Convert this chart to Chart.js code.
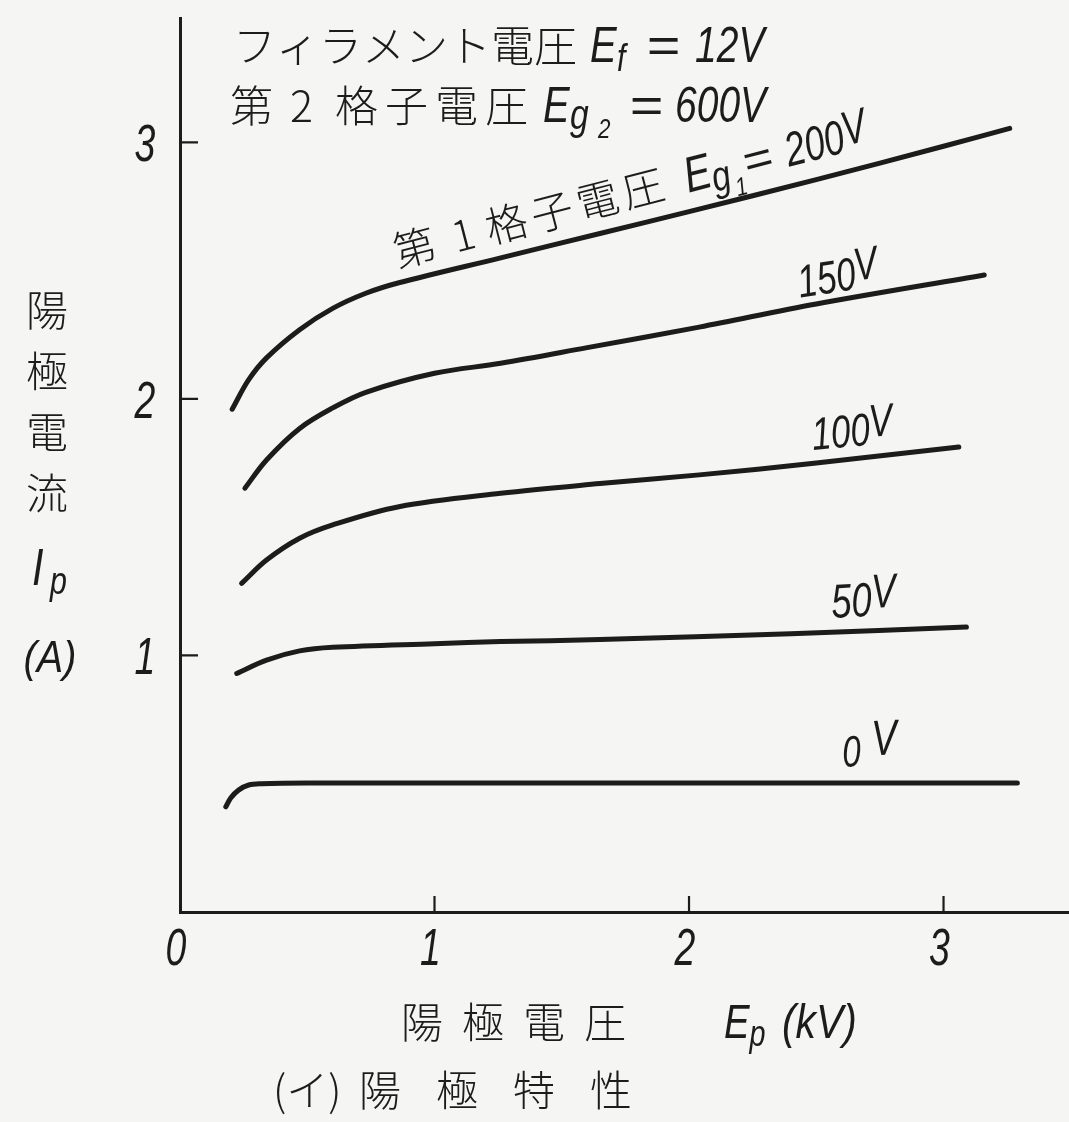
<!DOCTYPE html>
<html lang="ja">
<head>
<meta charset="utf-8">
<title>陽極特性</title>
<script src="https://cdn.jsdelivr.net/npm/chart.js@4.4.1/dist/chart.umd.min.js"></script>
<style>
  html, body { margin: 0; padding: 0; background: #f5f5f3; }
  canvas { display: block; }
</style>
</head>
<body>
<canvas id="chart" width="1069" height="1122"></canvas>
<script>
// Anode characteristics: anode current Ip (A) against anode voltage Ep (kV)
// for control-grid voltages Eg1 = 200, 150, 100, 50 and 0 V.
const seriesNames = ['200V', '150V', '100V', '50V', '0V'];

const ep200 = [0.205, 0.27, 0.34, 0.47, 0.60, 0.73, 0.86, 1.26, 1.65, 2.00, 2.50, 3.00, 3.26];
const ip200 = [1.96, 2.075, 2.16, 2.27, 2.353, 2.412, 2.453, 2.55, 2.645, 2.73, 2.855, 2.985, 3.055];

const ep150 = [0.255, 0.34, 0.47, 0.60, 0.73, 1.00, 1.26, 1.60, 2.04, 2.50, 3.16];
const ip150 = [1.652, 1.762, 1.885, 1.965, 2.026, 2.10, 2.139, 2.20, 2.28, 2.37, 2.483];

const ep100 = [0.242, 0.34, 0.47, 0.60, 0.86, 1.26, 1.65, 2.04, 2.50, 3.06];
const ip100 = [1.281, 1.372, 1.457, 1.509, 1.58, 1.632, 1.67, 1.704, 1.75, 1.813];

const ep50 = [0.223, 0.34, 0.47, 0.60, 1.00, 1.26, 1.65, 2.40, 3.09];
const ip50 = [0.93, 0.982, 1.018, 1.032, 1.046, 1.054, 1.062, 1.085, 1.111];

const ep0 = [0.18, 0.20, 0.23, 0.27, 0.32, 0.50, 1.00, 2.00, 3.00, 3.29];
const ip0 = [0.41, 0.445, 0.475, 0.495, 0.50, 0.503, 0.503, 0.503, 0.503, 0.503];

const xTickValues = [0, 1, 2, 3];
const xTickLabels = ['0', '1', '2', '3'];
const yTickValues = [1, 2, 3];
const yTickLabels = ['1', '2', '3'];

// ---------------------------------------------------------------------------
const INK = '#1c1c1c';
const CJK = '"Noto Sans CJK JP", "Noto Sans CJK SC", sans-serif';
const LAT = '"Liberation Sans", "DejaVu Sans", sans-serif';
const cjk = s => `300 ${s}px ${CJK}`;
const lat = s => `italic 400 ${s}px ${LAT}`;

const toPoints = (xs, ys) => xs.map((v, i) => ({ x: v, y: ys[i] }));

// Draws a sequence of text runs from an origin, optionally rotated.
// Each run may set its own font, horizontal squeeze (sx), baseline shift (dy),
// absolute start (x) and per-character spacing (ls).
function drawRuns(ctx, ox, oy, deg, runs) {
  ctx.save();
  ctx.translate(ox, oy);
  if (deg) ctx.rotate(deg * Math.PI / 180);
  ctx.fillStyle = INK;
  ctx.textBaseline = 'alphabetic';
  ctx.textAlign = 'left';
  let cx = 0;
  for (const r of runs) {
    if (r.x !== undefined) cx = r.x;
    ctx.font = r.font;
    const sx = r.sx || 1;
    const pieces = r.ls !== undefined ? Array.from(r.t) : [r.t];
    for (const ch of pieces) {
      const w = ctx.measureText(ch).width * sx;
      ctx.save();
      ctx.translate(cx, r.dy || 0);
      ctx.scale(sx, 1);
      ctx.fillText(ch, 0, 0);
      ctx.restore();
      cx += w + (r.ls || 0);
    }
  }
  ctx.restore();
  return cx;
}

function runsWidth(ctx, runs) {
  let w = 0;
  for (const r of runs) {
    ctx.font = r.font;
    const sx = r.sx || 1;
    const pieces = r.ls !== undefined ? Array.from(r.t) : [r.t];
    for (const ch of pieces) w += ctx.measureText(ch).width * sx + (r.ls || 0);
  }
  return w;
}

function drawCentered(ctx, cx, baseline, runs) {
  const w = runsWidth(ctx, runs);
  drawRuns(ctx, cx - w / 2, baseline, 0, runs);
}

const NUM_SX = 0.72;
const LBL_SX = 0.76;

// Labels written along the curves, anchored at data coordinates
const curveLabels = [
  { x: 0.857, y: 2.511, rot: -14.5, runs: [
    { t: '第', font: cjk(42) },
    { t: '1', font: cjk(42), x: 60 },
    { t: '格子電圧', font: cjk(42), x: 95, ls: 5 },
    { t: 'E', font: lat(50), sx: 0.8, x: 300 },
    { t: 'g', font: lat(42), sx: 0.8, dy: 6, x: 326 },
    { t: '1', font: lat(26), sx: 0.8, dy: 16, x: 347 },
    { t: '=', font: lat(46), sx: 1.1, x: 360 },
    { t: '200', font: lat(48), sx: 0.75, x: 404 },
    { t: 'V', font: lat(48), sx: 0.75, dy: -6 }
  ]},
  { x: 2.436, y: 2.394, rot: -9, runs: [
    { t: '150', font: lat(46), sx: LBL_SX },
    { t: 'V', font: lat(46), sx: LBL_SX, dy: -8 }
  ]},
  { x: 2.487, y: 1.801, rot: -5, runs: [
    { t: '100', font: lat(46), sx: LBL_SX },
    { t: 'V', font: lat(46), sx: LBL_SX, dy: -8 }
  ]},
  { x: 2.562, y: 1.146, rot: -3, runs: [
    { t: '50', font: lat(48), sx: LBL_SX },
    { t: 'V', font: lat(48), sx: LBL_SX, dy: -8 }
  ]},
  { x: 2.605, y: 0.565, rot: -3, runs: [
    { t: '0', font: lat(44), sx: LBL_SX, x: 0 },
    { t: 'V', font: lat(50), sx: LBL_SX, dy: -10, x: 30 }
  ]}
];

const decorations = {
  id: 'decorations',
  afterDraw(chart) {
    const { ctx, chartArea, scales: { x, y } } = chart;
    ctx.save();

    // inward tick marks
    ctx.strokeStyle = INK;
    ctx.lineWidth = 2.2;
    ctx.beginPath();
    xTickValues.forEach(v => {
      if (v === 0) return;
      const px = x.getPixelForValue(v);
      ctx.moveTo(px, chartArea.bottom);
      ctx.lineTo(px, chartArea.bottom - 16);
    });
    yTickValues.forEach(v => {
      const py = y.getPixelForValue(v);
      ctx.moveTo(chartArea.left, py);
      ctx.lineTo(chartArea.left + 18, py);
    });
    ctx.stroke();

    // tick labels
    xTickValues.forEach((v, i) => {
      const px = x.getPixelForValue(v);
      drawCentered(ctx, px - 4, chartArea.bottom + 53,
        [{ t: xTickLabels[i], font: lat(52), sx: NUM_SX }]);
    });
    yTickValues.forEach((v, i) => {
      const py = y.getPixelForValue(v);
      drawCentered(ctx, chartArea.left - 35, py + 19,
        [{ t: yTickLabels[i], font: lat(52), sx: NUM_SX }]);
    });

    // header: filament and screen-grid voltages
    drawRuns(ctx, 233, 62, 0, [
      { t: 'フィラメント電圧', font: cjk(43) },
      { t: 'E', font: lat(50), sx: 0.8, x: 357 },
      { t: 'f', font: lat(38), sx: 0.8, dy: 9, x: 384 },
      { t: '=', font: lat(50), sx: 1.15, x: 413 },
      { t: '12V', font: lat(50), sx: 0.78, x: 462 }
    ]);
    drawRuns(ctx, 230, 122, 0, [
      { t: '第', font: cjk(43) },
      { t: '2', font: cjk(43), x: 60 },
      { t: '格子電圧', font: cjk(43), x: 105, ls: 7 },
      { t: 'E', font: lat(50), sx: 0.8, x: 313 },
      { t: 'g', font: lat(42), sx: 0.8, dy: 7, x: 340 },
      { t: '2', font: lat(28), sx: 0.8, dy: 16, x: 368 },
      { t: '=', font: lat(50), sx: 1.15, x: 399 },
      { t: '600V', font: lat(50), sx: 0.78, x: 445 }
    ]);

    // labels along the curves
    curveLabels.forEach(l => {
      drawRuns(ctx, x.getPixelForValue(l.x), y.getPixelForValue(l.y), l.rot, l.runs);
    });

    // y-axis title, stacked vertically
    const yTitle = ['陽', '極', '電', '流'];
    yTitle.forEach((c, i) => {
      drawCentered(ctx, 47, 326 + i * 61, [{ t: c, font: cjk(42) }]);
    });
    drawRuns(ctx, 32, 585, 0, [
      { t: 'I', font: lat(52), sx: 0.8 },
      { t: 'p', font: lat(38), sx: 0.8, dy: 9, x: 18 }
    ]);
    drawCentered(ctx, 50, 672, [{ t: '(A)', font: lat(44), sx: 0.9 }]);

    // x-axis title
    ['陽', '極', '電', '圧'].forEach((c, i) => {
      drawCentered(ctx, 422 + i * 61, 1038, [{ t: c, font: cjk(42) }]);
    });
    drawRuns(ctx, 724, 1038, 0, [
      { t: 'E', font: lat(48), sx: 0.8 },
      { t: 'p', font: lat(36), sx: 0.8, dy: 8 },
      { t: '(kV)', font: lat(48), sx: 0.85, x: 782 - 724 }
    ]);

    // caption
    drawRuns(ctx, 273, 1106, 0, [{ t: '(イ)', font: cjk(42) }]);
    ['陽', '極', '特', '性'].forEach((c, i) => {
      drawCentered(ctx, 380 + i * 77, 1106, [{ t: c, font: cjk(42) }]);
    });

    ctx.restore();
  }
};

const curveStyle = {
  borderColor: INK,
  borderWidth: 5,
  pointRadius: 0,
  fill: false,
  tension: 0.35,
  borderCapStyle: 'round',
  borderJoinStyle: 'round'
};

const datasets = [
  [ep200, ip200], [ep150, ip150], [ep100, ip100], [ep50, ip50], [ep0, ip0]
].map(([xs, ys], i) => Object.assign({ label: seriesNames[i], data: toPoints(xs, ys) }, curveStyle));

new Chart(document.getElementById('chart'), {
  type: 'line',
  data: { datasets },
  plugins: [decorations],
  options: {
    responsive: false,
    animation: false,
    devicePixelRatio: 1,
    layout: { padding: { top: 18, right: 0, bottom: 0, left: 0 } },
    plugins: { legend: { display: false }, tooltip: { enabled: false } },
    scales: {
      x: {
        type: 'linear',
        min: 0,
        max: 3.493,
        grid: { display: false },
        ticks: { display: false },
        border: { display: true, color: INK, width: 3 },
        afterFit: s => { s.height = 210; }
      },
      y: {
        type: 'linear',
        min: 0,
        max: 3.485,
        grid: { display: false },
        ticks: { display: false },
        border: { display: true, color: INK, width: 3 },
        afterFit: s => { s.width = 180; }
      }
    }
  }
});
</script>
</body>
</html>
